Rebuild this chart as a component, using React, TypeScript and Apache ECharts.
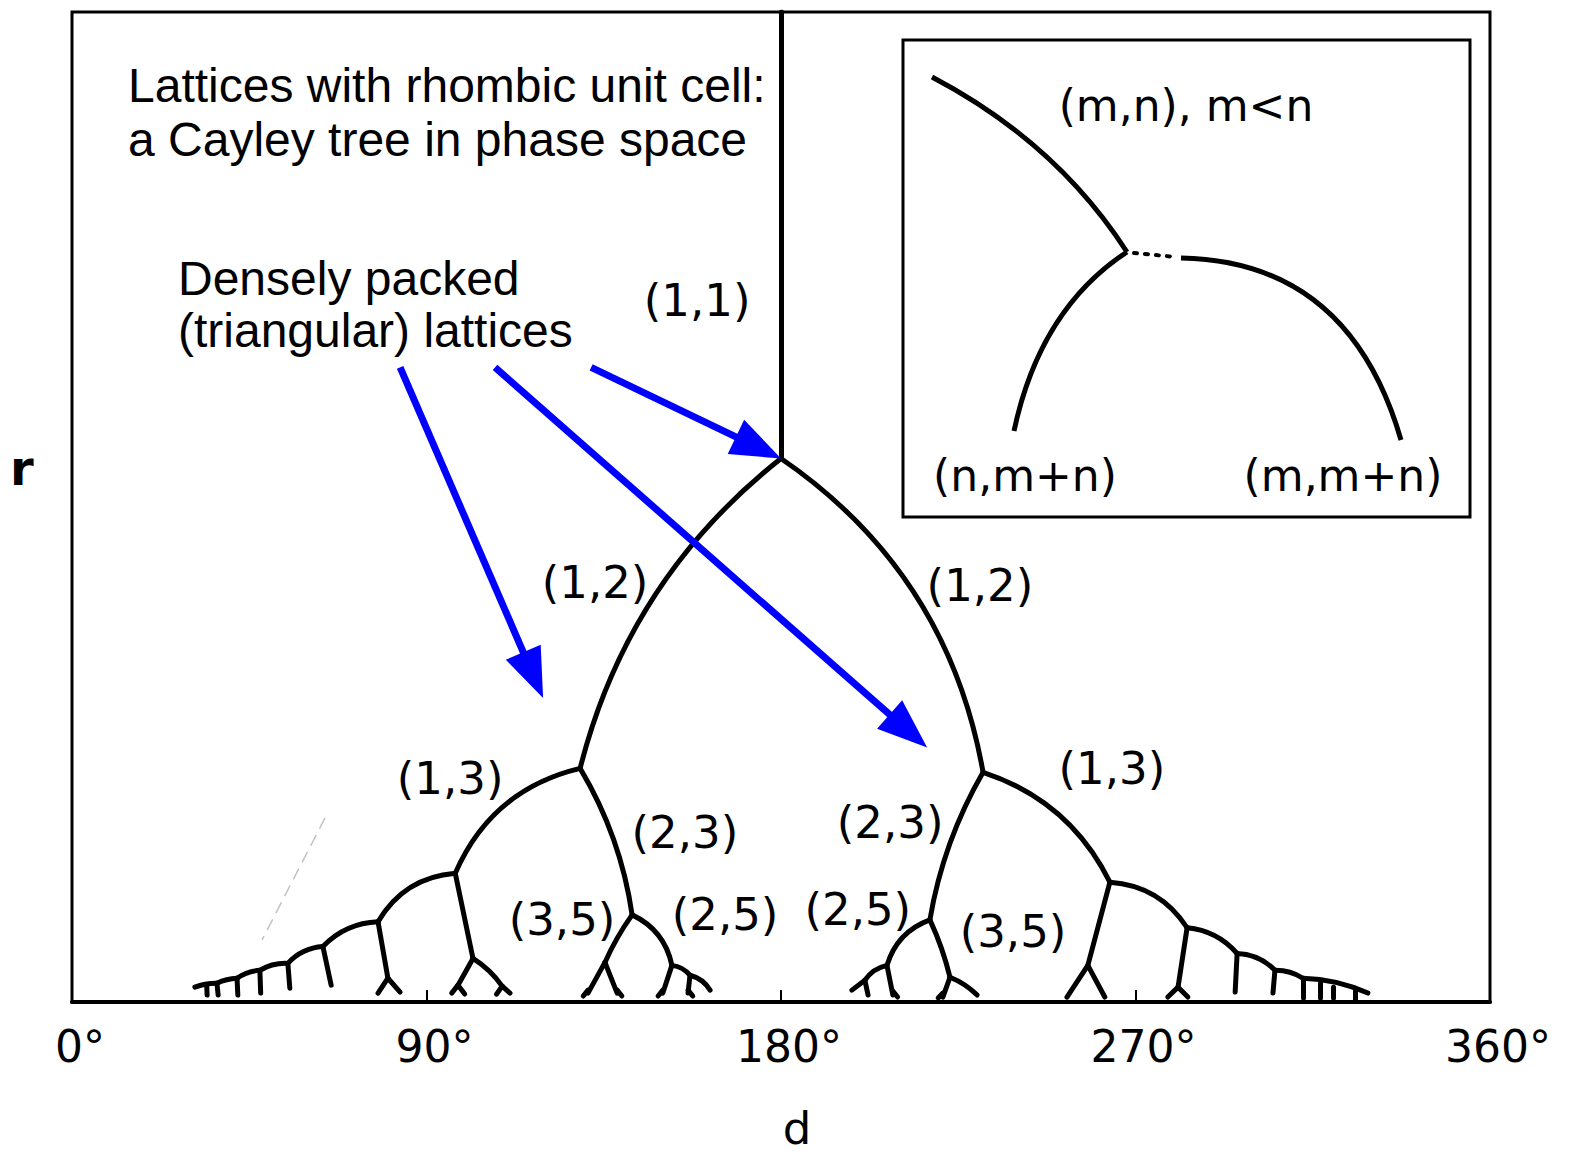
import React, { useEffect, useRef } from "react";
import * as echarts from "echarts";

// x axis: angle d in degrees, y axis: r (relative units 0..1)
const xTickValues = [0, 90, 180, 270, 360];

// Edges of the Cayley tree: [d1, r1, d2, r2, curveness]
const trunkEdges = [
  [180.0, 1.0, 180.0, 0.549, 0],
  [180.0, 0.549, 129.0, 0.236, -0.17],
  [180.0, 0.549, 231.3, 0.232, 0.21],
  [129.0, 0.236, 97.3, 0.13, -0.25],
  [129.0, 0.236, 142.2, 0.088, 0.1],
  [231.3, 0.232, 217.8, 0.083, -0.09],
  [231.3, 0.232, 263.5, 0.121, 0.21],
];

const leftOuterEdges = [
  [97.3, 0.13, 77.7, 0.081, -0.26],
  [97.3, 0.13, 101.8, 0.044, 0],
  [101.8, 0.044, 98.0, 0.017, 0],
  [101.8, 0.044, 109.2, 0.016, 0.1],
  [98.0, 0.017, 96.4, 0.009, 0],
  [98.0, 0.017, 99.7, 0.008, 0],
  [109.2, 0.016, 107.8, 0.008, 0],
  [109.2, 0.016, 111.2, 0.009, 0],
  [77.7, 0.081, 63.7, 0.056, -0.2],
  [77.7, 0.081, 80.2, 0.024, 0],
  [80.2, 0.024, 77.7, 0.009, 0],
  [80.2, 0.024, 83.3, 0.01, 0],
  [63.7, 0.056, 65.8, 0.017, 0],
  [63.7, 0.056, 54.8, 0.039, -0.2],
  [54.8, 0.039, 55.3, 0.014, 0],
  [54.8, 0.039, 47.7, 0.032, -0.15],
  [47.7, 0.032, 47.9, 0.009, 0],
  [47.7, 0.032, 41.9, 0.024, -0.15],
  [41.9, 0.024, 42.1, 0.007, 0],
  [41.9, 0.024, 36.8, 0.019, -0.1],
  [36.8, 0.019, 37.1, 0.007, 0],
  [36.8, 0.019, 31.2, 0.015, -0.1],
  [34.2, 0.017, 34.3, 0.007, 0],
];

const leftInnerEdges = [
  [142.2, 0.088, 135.3, 0.04, -0.05],
  [135.3, 0.04, 131.0, 0.009, 0],
  [135.3, 0.04, 138.4, 0.009, 0],
  [131.0, 0.012, 129.8, 0.006, 0],
  [138.4, 0.012, 139.6, 0.006, 0],
  [142.2, 0.088, 152.3, 0.037, 0.25],
  [152.3, 0.037, 150.0, 0.009, 0],
  [152.3, 0.037, 156.9, 0.027, 0.2],
  [156.9, 0.027, 156.4, 0.009, 0],
  [156.9, 0.027, 162.0, 0.012, 0.2],
  [150.0, 0.012, 148.8, 0.006, 0],
  [156.4, 0.012, 157.6, 0.006, 0],
];

const rightInnerEdges = [
  [217.8, 0.083, 206.9, 0.037, -0.25],
  [206.9, 0.037, 201.3, 0.022, -0.2],
  [201.3, 0.022, 198.0, 0.012, 0],
  [201.3, 0.022, 202.1, 0.007, 0],
  [206.9, 0.037, 208.4, 0.007, 0],
  [217.8, 0.083, 222.9, 0.025, 0.05],
  [222.9, 0.025, 221.1, 0.005, 0],
  [222.9, 0.025, 229.8, 0.007, 0.1],
  [208.4, 0.011, 209.6, 0.005, 0],
  [221.1, 0.009, 219.9, 0.004, 0],
];

const rightOuterEdges = [
  [263.5, 0.121, 283.1, 0.075, 0.25],
  [263.5, 0.121, 257.9, 0.037, 0],
  [257.9, 0.037, 252.6, 0.005, 0],
  [257.9, 0.037, 262.2, 0.005, 0],
  [283.1, 0.075, 280.8, 0.015, 0],
  [280.8, 0.015, 278.2, 0.005, 0],
  [280.8, 0.015, 283.3, 0.005, 0],
  [283.1, 0.075, 295.8, 0.049, 0.2],
  [295.8, 0.049, 295.3, 0.01, 0],
  [295.8, 0.049, 305.4, 0.032, 0.2],
  [305.4, 0.032, 304.9, 0.009, 0],
  [305.4, 0.032, 312.5, 0.024, 0.15],
  [312.5, 0.024, 312.5, 0.004, 0],
  [312.5, 0.024, 329.0, 0.009, 0.1],
  [316.8, 0.019, 316.8, 0.004, 0],
  [320.1, 0.015, 320.1, 0.004, 0],
  [325.7, 0.011, 325.7, 0.002, 0],
];

// Node labels: [text, d, r]
const nodeLabels: [string, number, number][] = [
  ["(1,1)", 158.7, 0.709],
  ["(1,2)", 132.8, 0.424],
  ["(1,2)", 230.5, 0.421],
  ["(1,3)", 96.0, 0.226],
  ["(1,3)", 264.0, 0.236],
  ["(2,3)", 155.6, 0.171],
  ["(2,3)", 207.7, 0.181],
  ["(3,5)", 124.4, 0.083],
  ["(2,5)", 165.8, 0.088],
  ["(2,5)", 199.5, 0.093],
  ["(3,5)", 238.9, 0.071],
];

// Blue annotation arrows: [dTail, rTail, dTip, rTip]
const arrows = [
  [83.3, 0.641, 119.6, 0.307],
  [107.4, 0.641, 217.1, 0.257],
  [131.8, 0.641, 180.0, 0.549],
];

const titleLines = ["Lattices with rhombic unit cell:", "a Cayley tree in phase space"];
const noteLines = ["Densely packed", "(triangular) lattices"];
const insetLabels = ["(m,n), m<n", "(n,m+n)", "(m,m+n)"];

const allEdges = [
  ...trunkEdges,
  ...leftOuterEdges,
  ...leftInnerEdges,
  ...rightInnerEdges,
  ...rightOuterEdges,
];

const DJ = '"DejaVu Sans", sans-serif';
const LS = '"Liberation Sans", Arial, sans-serif';

export default function App() {
  const ref = useRef<HTMLDivElement>(null);

  useEffect(() => {
    document.body.style.margin = "0";
    const chart = echarts.init(ref.current as HTMLDivElement, null, { renderer: "svg" });

    const option: any = {
      animation: false,
      backgroundColor: "#ffffff",
      grid: {
        left: 72,
        top: 12,
        right: 79,
        bottom: 153,
        outerBoundsMode: "none",
        containLabel: false,
        show: true,
        borderColor: "#000",
        borderWidth: 3,
        backgroundColor: "transparent",
      },
      xAxis: {
        type: "value",
        min: 0,
        max: 360,
        interval: 90,
        name: "d",
        nameLocation: "middle",
        nameGap: 103,
        nameTextStyle: { fontFamily: DJ, fontSize: 45, lineHeight: 46, color: "#000", padding: [0, 0, 0, 32] },
        axisLine: { show: true, lineStyle: { color: "#000", width: 4 } },
        axisTick: { show: true, inside: true, length: 12, lineStyle: { color: "#000", width: 2 } },
        axisLabel: {
          show: true,
          margin: 22,
          fontFamily: DJ,
          fontSize: 44,
          color: "#000",
          padding: [0, 0, 0, 16],
          formatter: (v: number) => (xTickValues.includes(v) ? v + "°" : ""),
        },
        splitLine: { show: false },
      },
      yAxis: {
        type: "value",
        min: 0,
        max: 1,
        show: false,
      },
      series: [
        {
          type: "lines",
          coordinateSystem: "cartesian2d",
          silent: true,
          z: 3,
          lineStyle: { color: "#000", width: 5, opacity: 1, cap: "round" },
          data: allEdges.map((e) => ({
            coords: [
              [e[0], e[1]],
              [e[2], e[3]],
            ],
            lineStyle: { curveness: e[4] },
          })),
        },
        {
          type: "scatter",
          silent: true,
          symbolSize: 0,
          z: 4,
          itemStyle: { opacity: 1 },
          label: {
            show: true,
            position: "inside",
            formatter: (p: any) => p.name,
            fontFamily: DJ,
            fontSize: 45,
            color: "#000",
            align: "center",
            verticalAlign: "middle",
          },
          data: nodeLabels.map(([t, x, y]) => ({ name: t, value: [x, y] })),
        },
        {
          type: "custom",
          coordinateSystem: "cartesian2d",
          silent: true,
          z: 5,
          encode: { x: [0, 2], y: [1, 3] },
          data: arrows,
          renderItem: (params: any, api: any) => {
            const p1 = api.coord([api.value(0), api.value(1)]);
            const p2 = api.coord([api.value(2), api.value(3)]);
            const dx = p2[0] - p1[0];
            const dy = p2[1] - p1[1];
            const L = Math.hypot(dx, dy);
            const ux = dx / L;
            const uy = dy / L;
            const headL = 50;
            const headW = 38;
            const bx = p2[0] - ux * headL;
            const by = p2[1] - uy * headL;
            const nx = -uy;
            const ny = ux;
            return {
              type: "group",
              children: [
                {
                  type: "line",
                  shape: { x1: p1[0], y1: p1[1], x2: bx + ux * 4, y2: by + uy * 4 },
                  style: { stroke: "#0000ff", lineWidth: 7 },
                },
                {
                  type: "polygon",
                  shape: {
                    points: [
                      [p2[0], p2[1]],
                      [bx + (nx * headW) / 2, by + (ny * headW) / 2],
                      [bx - (nx * headW) / 2, by - (ny * headW) / 2],
                    ],
                  },
                  style: { fill: "#0000ff" },
                },
              ],
            };
          },
        },
      ],
      graphic: [
        {
          type: "text",
          left: 10,
          top: 444,
          style: { text: "r", fontFamily: DJ, fontSize: 48, fontWeight: "bold", fill: "#000" },
        },
        {
          type: "text",
          x: 128,
          y: 85,
          style: { text: titleLines[0], fontFamily: LS, fontSize: 48, fill: "#000", textAlign: "left", textVerticalAlign: "middle" },
        },
        {
          type: "text",
          x: 128,
          y: 139,
          style: { text: titleLines[1], fontFamily: LS, fontSize: 48, fill: "#000", textAlign: "left", textVerticalAlign: "middle" },
        },
        {
          type: "text",
          x: 178,
          y: 278,
          style: { text: noteLines[0], fontFamily: LS, fontSize: 48, fill: "#000", textAlign: "left", textVerticalAlign: "middle" },
        },
        {
          type: "text",
          x: 178,
          y: 330,
          style: { text: noteLines[1], fontFamily: LS, fontSize: 48, fill: "#000", textAlign: "left", textVerticalAlign: "middle" },
        },
        // inset box
        {
          type: "rect",
          shape: { x: 903, y: 40, width: 567, height: 477 },
          style: { fill: "#fff", stroke: "#000", lineWidth: 3 },
          z: 10,
        },
        {
          type: "bezierCurve",
          shape: { x1: 932, y1: 77, cpx1: 1056, cpy1: 142, x2: 1127, y2: 252 },
          style: { stroke: "#000", lineWidth: 5, fill: null },
          z: 11,
        },
        {
          type: "bezierCurve",
          shape: { x1: 1127, y1: 252, cpx1: 1040, cpy1: 309, x2: 1014, y2: 431 },
          style: { stroke: "#000", lineWidth: 5, fill: null },
          z: 11,
        },
        {
          type: "line",
          shape: { x1: 1134, y1: 253, x2: 1176, y2: 257 },
          style: { stroke: "#000", lineWidth: 4, lineDash: [3, 8], lineCap: "round" },
          z: 11,
        },
        {
          type: "bezierCurve",
          shape: { x1: 1181, y1: 258, cpx1: 1349, cpy1: 261, x2: 1401, y2: 440 },
          style: { stroke: "#000", lineWidth: 5, fill: null },
          z: 11,
        },
        {
          type: "text",
          x: 1186,
          y: 105,
          z: 11,
          style: { text: insetLabels[0], fontFamily: DJ, fontSize: 44, fill: "#000", textAlign: "center", textVerticalAlign: "middle" },
        },
        {
          type: "text",
          x: 1025,
          y: 475,
          z: 11,
          style: { text: insetLabels[1], fontFamily: DJ, fontSize: 44, fill: "#000", textAlign: "center", textVerticalAlign: "middle" },
        },
        {
          type: "text",
          x: 1343,
          y: 475,
          z: 11,
          style: { text: insetLabels[2], fontFamily: DJ, fontSize: 44, fill: "#000", textAlign: "center", textVerticalAlign: "middle" },
        },
        // faint scan artefact
        {
          type: "line",
          shape: { x1: 325, y1: 818, x2: 262, y2: 940 },
          style: { stroke: "#999", lineWidth: 1.5, lineDash: [12, 7], opacity: 0.6 },
        },
      ],
    };

    chart.setOption(option);
    return () => chart.dispose();
  }, []);

  return <div ref={ref} style={{ width: 1569, height: 1155 }} />;
}
